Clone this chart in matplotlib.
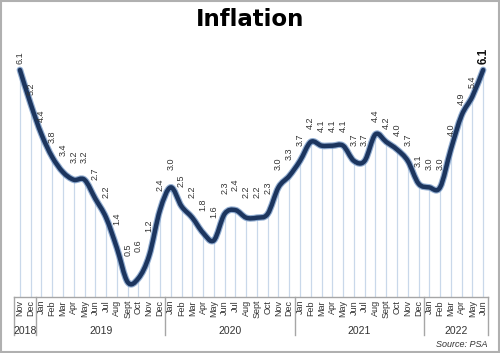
import numpy as np
import matplotlib
matplotlib.use("Agg")
import matplotlib.pyplot as plt
from matplotlib.path import Path
from matplotlib.patches import PathPatch, Rectangle

months = ["Nov", "Dec",
          "Jan", "Feb", "Mar", "Apr", "May", "Jun", "Jul", "Aug", "Sept", "Oct", "Nov", "Dec",
          "Jan", "Feb", "Mar", "Apr", "May", "Jun", "Jul", "Aug", "Sept", "Oct", "Nov", "Dec",
          "Jan", "Feb", "Mar", "Apr", "May", "Jun", "Jul", "Aug", "Sept", "Oct", "Nov", "Dec",
          "Jan", "Feb", "Mar", "Apr", "May", "Jun"]
years = ["2018", "2019", "2020", "2021", "2022"]
year_counts = [2, 12, 12, 12, 6]
inflation = [6.1, 5.2,
             4.4, 3.8, 3.4, 3.2, 3.2, 2.7, 2.2, 1.4, 0.5, 0.6, 1.2, 2.4,
             3.0, 2.5, 2.2, 1.8, 1.6, 2.3, 2.4, 2.2, 2.2, 2.3, 3.0, 3.3,
             3.7, 4.2, 4.1, 4.1, 4.1, 3.7, 3.7, 4.4, 4.2, 4.0, 3.7, 3.1,
             3.0, 3.0, 4.0, 4.9, 5.4, 6.1]

plt.rcParams['font.family'] = ['Liberation Sans', 'DejaVu Sans']

fig = plt.figure(figsize=(5.0, 3.53), dpi=100)
# axes: x from 14 to 488 px, y from 297 to 40 px
ax = fig.add_axes([0.028, 1 - 297 / 353, 0.948, 257 / 353])

x = np.arange(len(inflation))
y = np.array(inflation, dtype=float)
n = len(x)
ax.set_xlim(-0.55, n - 0.55)
ylo, yhi = 0.106, 6.89
ax.set_ylim(ylo, yhi)
px_per_unit = 257 / (yhi - ylo)

# drop lines
for xi, yi in zip(x, y):
    ax.plot([xi, xi], [ylo, yi], color="#c9d8ea", lw=0.9, zorder=1)

# smoothed line (Bezier, Excel-like)
verts = [(x[0], y[0])]
codes = [Path.MOVETO]
for i in range(n - 1):
    p0 = np.array([x[max(i - 1, 0)], y[max(i - 1, 0)]])
    p1 = np.array([x[i], y[i]])
    p2 = np.array([x[i + 1], y[i + 1]])
    p3 = np.array([x[min(i + 2, n - 1)], y[min(i + 2, n - 1)]])
    c1 = p1 + (p2 - p0) / 6.0
    c2 = p2 - (p3 - p1) / 6.0
    verts += [tuple(c1), tuple(c2), tuple(p2)]
    codes += [Path.CURVE4] * 3
path = Path(verts, codes)
ax.add_patch(PathPatch(path, facecolor="none", edgecolor="#6f93c2", lw=4.8,
                       capstyle="round", joinstyle="round", zorder=3, alpha=0.75))
ax.add_patch(PathPatch(path, facecolor="none", edgecolor="#1c355e", lw=3.2,
                       capstyle="round", joinstyle="round", zorder=4))

# data labels: gap above the point shrinks as the value rises
for i, (xi, yi) in enumerate(zip(x, y)):
    last = i == n - 1
    off_px = 28 - 3.56 * yi
    ax.annotate(f"{yi:.1f}", (xi, yi), xytext=(0, off_px * 0.72), textcoords="offset points",
                rotation=90, ha="center", va="bottom",
                fontsize=8.5 if last else 6.5, fontweight="bold" if last else "normal",
                family=["Liberation Sans Narrow", "Liberation Sans", "DejaVu Sans"],
                color="#111111" if last else "#333333", zorder=5)

for s in ax.spines.values():
    s.set_visible(False)
ax.set_xticks([])
ax.set_yticks([])

# category axis box
axis_col = "#a6a6a6"
ax.plot([-0.55, n - 0.55], [ylo, ylo], color=axis_col, lw=1, clip_on=False, zorder=2)
bounds = [-0.55]
acc = -0.5
for c in year_counts:
    acc += c
    bounds.append(acc)
bounds[-1] = n - 0.55
for b in bounds:
    ax.plot([b, b], [ylo, ylo - 38 / px_per_unit], color=axis_col, lw=1, clip_on=False)
for xi, m in zip(x, months):
    ax.text(xi, ylo - 3 / px_per_unit, m, rotation=90, ha="center", va="top",
            fontsize=6.5, color="#333333")
start = 0
for yr, c in zip(years, year_counts):
    mid = start + (c - 1) / 2
    ax.text(mid, ylo - 34 / px_per_unit, yr, ha="center", va="center", fontsize=7.5,
            color="#333333")
    start += c

fig.text(0.5, 1 - 20 / 353, "Inflation", ha="center", va="center", fontsize=16.5,
         fontweight="bold", family=["DejaVu Sans"], color="black")
fig.text(0.976, 0.025, "Source: PSA", ha="right", va="center", fontsize=6.5,
         style="italic", color="#333333")

fig.patches.append(Rectangle((0.002, 0.003), 0.996, 0.994, transform=fig.transFigure,
                             fill=False, edgecolor="#b0b0b0", lw=1.5))

fig.savefig("out.png", dpi=100)
